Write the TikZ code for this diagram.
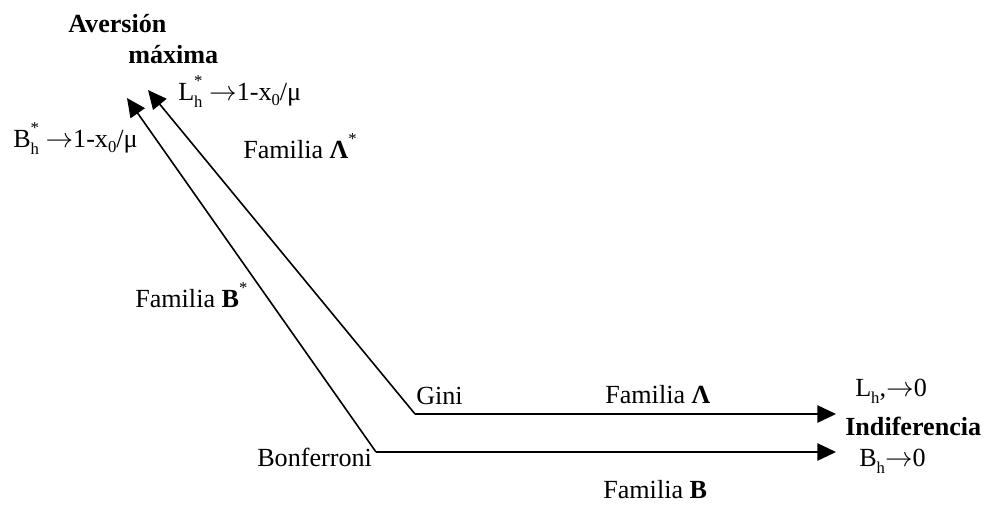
\documentclass[tikz,border=0pt]{standalone}
\usepackage{fontspec}
\setmainfont{Liberation Serif}
\usetikzlibrary{arrows.meta}
\newcommand\smallsz{\fontsize{12.5}{13}\selectfont}
\newcommand\supsubh{\rlap{\raisebox{0.5em}{\smallsz *}}\raisebox{-0.28em}{\smallsz h}}
\newcommand\subh{\raisebox{-0.28em}{\smallsz h}}
\newcommand\subzero{\raisebox{-0.22em}{\smallsz 0}}
\newcommand\arr{\ensuremath{\rightarrow}}
\tikzset{
  lbl/.style={anchor=base west, inner sep=0pt, font=\fontsize{19.6}{22}\selectfont},
  conn/.style={line width=1.2pt, -{Triangle[length=14pt,width=13pt]}},
}
\begin{document}
\begin{tikzpicture}[x=0.75pt,y=-0.75pt]
\useasboundingbox (0,0) rectangle (987,504);
% labels
\node[lbl] (aver) at (68,32) {\textbf{Aversión}};
\node[lbl] (maxi) at (128,63) {\textbf{máxima}};
\node[lbl] (lstar) at (178,100) {L\supsubh\ \arr1-x\subzero/μ};
\node[lbl] (bstar) at (13,147) {B\supsubh\ \arr1-x\subzero/μ};
\node[lbl] (famLs) at (243,158) {Familia \textbf{Λ}\raisebox{0.5em}{\smallsz *}};
\node[lbl] (famBs) at (135,307) {Familia \textbf{B}\raisebox{0.5em}{\smallsz *}};
\node[lbl] (gini) at (416,404) {Gini};
\node[lbl] (famL) at (605,403) {Familia \textbf{Λ}};
\node[lbl] (lh) at (855,396) {L\subh,\arr0};
\node[lbl] (indif) at (845,435) {\textbf{Indiferencia}};
\node[lbl] (bh) at (859,466) {B\subh\arr0};
\node[lbl] (bonf) at (257,466) {Bonferroni};
\node[lbl] (famB) at (603,498) {Familia \textbf{B}};
% connector points
\coordinate (gc) at (415,414);
\coordinate (bc) at (376,452);
\coordinate (ltip) at (148,90);
\coordinate (btip) at (127,98);
\coordinate (lend) at (836,414);
\coordinate (bend) at (836,452);
\draw[conn] (gc) -- (ltip);
\draw[conn] (gc) -- (lend);
\draw[conn] (bc) -- (btip);
\draw[conn] (bc) -- (bend);
\end{tikzpicture}
\end{document}
